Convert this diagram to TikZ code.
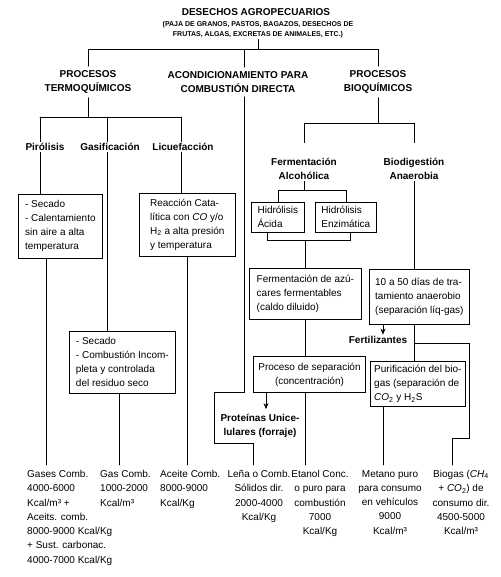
\documentclass[tikz,border=0pt]{standalone}
\usepackage{fontspec}
\setmainfont{Liberation Sans}
\usetikzlibrary{positioning, arrows.meta}

\tikzset{
  proc/.style={draw, line width=.7pt, anchor=north west, align=left,
    inner xsep=5pt, inner ysep=4pt, font=\fontsize{10}{14}\selectfont},
  head/.style={font=\bfseries\fontsize{10}{14}\selectfont, align=center, inner sep=4pt},
  srcnote/.style={font=\bfseries\fontsize{7}{10}\selectfont, align=center, inner sep=1pt},
  lab/.style={font=\bfseries\fontsize{10}{14}\selectfont, align=center, inner sep=1.5pt},
  yield/.style={font=\fontsize{10}{14.3}\selectfont, inner sep=5pt},
  link/.style={line width=.7pt},
}

\begin{document}
\begin{tikzpicture}[x=1pt, y=-1pt, >={Stealth[length=6pt, width=5pt]}, line cap=round]
\useasboundingbox (0,0) rectangle (500,577);

% --- source ---
\node[head, inner sep=1pt] (title) at (256,12) {DESECHOS AGROPECUARIOS};
\node[srcnote] (src) at (258,30)
  {(PAJA DE GRANOS, PASTOS, BAGAZOS, DESECHOS DE\\FRUTAS, ALGAS, EXCRETAS DE ANIMALES, ETC.)};

% --- main branches ---
\node[head] (termo) at (88,82) {PROCESOS\\TERMOQUÍMICOS};
\node[head] (acond) at (238,82) {ACONDICIONAMIENTO PARA\\COMBUSTIÓN DIRECTA};
\node[head] (bioq) at (378,82) {PROCESOS\\BIOQUÍMICOS};

% --- thermochemical boxes ---
\node[proc, minimum width=84, minimum height=64] (pyro) at (18,194)
  {- Secado\\- Calentamiento\\sin aire a alta\\temperatura};
\node[proc, minimum width=96, minimum height=63] (reac) at (139,193)
  {Reacción Cata-\\lítica con \textit{CO} y/o\\H\textsubscript{2} a alta presión\\y temperatura};
\node[proc, minimum width=106, minimum height=62] (gbox) at (69,331)
  {- Secado\\- Combustión Incom-\\pleta y controlada\\del residuo seco};

% --- biochemical boxes ---
\node[lab] (ferm) at (304,169) {Fermentación\\Alcohólica};
\node[lab] (biod) at (414,169) {Biodigestión\\Anaerobia};
\node[proc, minimum width=53, minimum height=30] (acid) at (251,202) {Hidrólisis\\Ácida};
\node[proc, minimum width=61, minimum height=30] (enz) at (315,202) {Hidrólisis\\Enzimática};
\node[proc, minimum width=112, minimum height=51] (fbox) at (249,268)
  {Fermentación de azú-\\cares fermentables\\(caldo diluido)};
\node[proc, align=center, minimum width=110, minimum height=36] (sep) at (253,356)
  {Proceso de separación\\(concentración)};
\node[proc, minimum width=100, minimum height=55] (dias) at (369,269)
  {10 a 50 días de tra-\\tamiento anaerobio\\(separación líq-gas)};
\node[proc, inner xsep=3pt, minimum width=95, minimum height=43] (puri) at (370,361)
  {Purificación del bio-\\gas (separación de\\\textit{CO}\textsubscript{2} y H\textsubscript{2}S};
\node[lab] (fert) at (378,340) {Fertilizantes};
\node[lab, inner xsep=6pt, inner ysep=5pt] (prot) at (260,426) {Proteínas Unice-\\lulares (forraje)};

% --- products: options, name, position, text
\newcommand{\yielditem}[4]{%
  \node[yield, #1] (#2) at (#3) {#4};
}
\yielditem{anchor=north west, align=left}{gases}{22,465}
  {Gases Comb.\\4000-6000\\Kcal/m³ +\\Aceits. comb.\\8000-9000 Kcal/Kg\\+ Sust. carbonac.\\4000-7000 Kcal/Kg}
\yielditem{anchor=north west, align=left}{gasc}{95,465}{Gas Comb.\\1000-2000\\Kcal/m³}
\yielditem{anchor=north west, align=left}{aceite}{155,465}{Aceite Comb.\\8000-9000\\Kcal/Kg}
\yielditem{anchor=north, align=center}{lena}{259,465}{Leña o Comb.\\Sólidos dir.\\2000-4000\\Kcal/Kg}
\yielditem{anchor=north, align=center}{etanol}{320,465}{Etanol Conc.\\o puro para\\combustión\\7000\\Kcal/Kg}
\yielditem{anchor=north, align=center}{metano}{390,465}{Metano puro\\para consumo\\en vehículos\\9000\\Kcal/m³}
\yielditem{anchor=north, align=center}{biogas}{461,465}
  {Biogas (\textit{CH}\textsubscript{4}\\+ \textit{CO}\textsubscript{2}) de\\consumo dir.\\4500-5000\\Kcal/m³}

% --- top connectors ---
\draw[link] (src.south) -- ++(0,10) coordinate (hub);
\draw[link] (termo.north) |- (hub) -| (bioq.north);
\coordinate (cx) at (244,50);
\draw[link] (cx) -- (cx |- acond.north);

% --- thermochemical connectors ---
\coordinate (pirx) at (40,117);
\coordinate (gasx) at (107,117);
\coordinate (licx) at (181,117);
\draw[link] (termo.south) -- (termo.south |- pirx);
\draw[link] (pirx) -- (licx);
\draw[link] (pirx) -- (pirx |- pyro.north);
\draw[link] (gasx) -- (gasx |- gbox.north);
\draw[link] (licx) -- (licx |- reac.north);
\coordinate (pyroOut) at ([xshift=28pt]pyro.south west);
\coordinate (gboxOut) at ([xshift=50pt]gbox.south west);
\coordinate (reacOut) at ([xshift=48pt]reac.south west);
\draw[link] (pyroOut) -- (pyroOut |- gases.north);
\draw[link] (gboxOut) -- (gboxOut |- gasc.north);
\draw[link] (reacOut) -- (reacOut |- aceite.north);

% --- direct combustion line ---
\coordinate (lenaIn) at ([xshift=-6pt]lena.north);
\draw[link] (cx |- acond.south) -- (cx |- sep.south) -| (prot.south west) -| (lenaIn);

% --- biochemical connectors ---
\draw[link] (bioq.south) -- ++(0,26) coordinate (bbus);
\draw[link] ([yshift=14pt]ferm.north) |- (bbus) -| ([yshift=14pt]biod.north);
\draw[link] (acid.north) -- ++(0,-12) coordinate (hb) -| (enz.north);
\draw[link] (ferm.south) -- (ferm.south |- hb);
\draw[link] ([xshift=-11pt]acid.south) -- ++(0,8) coordinate (hb2) -| ([xshift=4pt]enz.south);
\draw[link] (fbox.north) -- (fbox.north |- hb2);
\draw[link] (fbox.south) -- (fbox.south |- sep.north);
\coordinate (sepOut) at (fbox.south |- sep.south);
\draw[link] (sepOut) -- (sepOut |- etanol.north);
\coordinate (sepArr) at ([xshift=13pt]sep.south west);
\draw[link, ->] (sepArr) -- (sepArr |- prot.north);

\draw[link] (biod.south) -- (biod.south |- dias.north);
\coordinate (fsplit) at (414,343);
\draw[link] (fsplit |- dias.south) -- (fsplit) -- (fsplit -| dias.east) -- ++(0,95)
  -| ([xshift=-9pt]biogas.north);
\draw[link] (fsplit) -- (fsplit |- puri.north);
\coordinate (diasArr) at ([xshift=14pt]dias.south west);
\draw[link, ->] (diasArr) -- (diasArr |- fert.north);
\coordinate (puriOut) at ([xshift=13pt]puri.south west);
\draw[link] (puriOut) -- (puriOut |- metano.north);

% --- process labels over the lines ---
\node[lab, fill=white] (pir) at (45,147) {Pirólisis};
\node[lab, fill=white] (gasi) at (110,147) {Gasificación};
\node[lab, fill=white] (licu) at (183,147) {Licuefacción};

\end{tikzpicture}
\end{document}
